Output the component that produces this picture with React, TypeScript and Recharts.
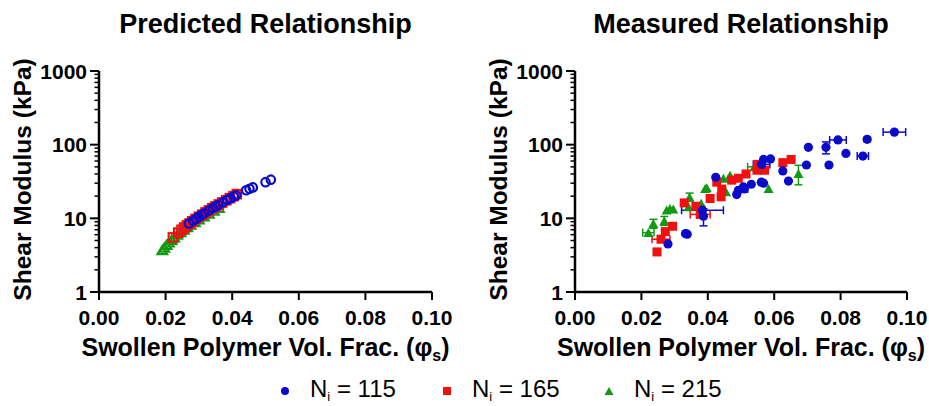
import { ErrorBar, Label, Scatter, ScatterChart, XAxis, YAxis } from "recharts";

const FONT = '"Liberation Sans", Arial, Helvetica, sans-serif';
const BLUE = "#0a0acb";
const RED = "#f01010";
const GREEN = "#129a12";

// axis ticks
const xTicks = [0, 0.02, 0.04, 0.06, 0.08, 0.1];
const yMajor = [1, 10, 100, 1000];
const yTicks = [
  1, 2, 3, 4, 5, 6, 7, 8, 9, 10, 20, 30, 40, 50, 60, 70, 80, 90, 100, 200, 300, 400, 500, 600,
  700, 800, 900, 1000,
];

// predicted relationship (open markers)
const predPhi115 = [
  0.027, 0.0283, 0.0292, 0.03, 0.0308, 0.0316, 0.033, 0.0342, 0.035, 0.0358, 0.0372, 0.0385,
  0.0395, 0.0405, 0.0412, 0.0442, 0.0452, 0.0462, 0.05, 0.0516,
];
const predG115 = [
  8.5, 9.3, 9.9, 10.5, 11.1, 11.7, 12.8, 13.8, 14.5, 15.2, 16.5, 17.8, 18.8, 19.8, 20.6, 24.0,
  25.2, 26.3, 31.0, 33.5,
];
const predPhi165 = [
  0.0222, 0.0238, 0.0248, 0.0256, 0.0264, 0.0272, 0.028, 0.029, 0.03, 0.031, 0.032, 0.033, 0.034,
  0.035, 0.036, 0.037, 0.0382, 0.0393, 0.0404, 0.0414,
];
const predG165 = [
  5.5, 6.4, 7.0, 7.5, 8.0, 8.5, 9.1, 9.8, 10.5, 11.2, 12.0, 12.8, 13.7, 14.5, 15.4, 16.4, 17.6,
  18.8, 20.0, 21.3,
];
const predPhi215 = [
  0.019, 0.0196, 0.0203, 0.021, 0.0218, 0.0226, 0.0235, 0.0245, 0.0255, 0.0265, 0.0275, 0.0288,
  0.03, 0.0315, 0.033, 0.0345, 0.036,
];
const predG215 = [
  3.7, 4.0, 4.35, 4.7, 5.1, 5.5, 6.0, 6.5, 7.0, 7.6, 8.2, 8.9, 9.7, 10.6, 11.6, 12.7, 13.9,
];

// measured relationship (filled markers, some with error bars)
const measPhi115 = [
  0.028, 0.0333, 0.0338, 0.0384, 0.0387, 0.0424, 0.0487, 0.0492, 0.0507, 0.051, 0.0531, 0.0561,
  0.0568, 0.0562, 0.0568, 0.0589, 0.0626, 0.0643, 0.0697, 0.0703, 0.0756, 0.0765, 0.0792, 0.0816,
  0.0867, 0.088, 0.0962,
];
const measG115 = [
  4.5, 6.2, 6.1, 12.9, 10.7, 36, 21, 24, 26.7, 25, 29, 31, 30, 54, 63, 64, 44, 32, 53, 92, 92, 53,
  116, 76, 70, 118, 148,
];
const measPhiErr115 = [
  0, 0, 0, 0.0063, 0, 0, 0, 0, 0, 0.001, 0, 0, 0, 0.0025, 0, 0, 0, 0, 0, 0, 0, 0, 0.0025, 0,
  0.0017, 0, 0.0034,
];
const measGErr115 = [
  0, 0, 0, 0, 2.8, 0, 0, 0, 0, 0, 0, 0, 0, 0, 0, 0, 0, 0, 0, 0, 17, 0, 0, 0, 0, 8, 0,
];

const measPhi165 = [
  0.0247, 0.0259, 0.0272, 0.0294, 0.0329, 0.0364, 0.0377, 0.0407, 0.0427, 0.044, 0.0442, 0.0472,
  0.0492, 0.0515, 0.0548, 0.055, 0.0571, 0.0626, 0.0651,
];
const measG165 = [
  3.5, 5.2, 6.6, 7.8, 16.2, 14.6, 11.3, 18.6, 31, 19.6, 25, 33, 35, 40, 45, 54, 45, 57, 63,
];
const measPhiErr165 = [0, 0.0027, 0, 0, 0, 0, 0.003, 0, 0, 0, 0, 0, 0, 0, 0, 0, 0, 0, 0];

const measPhi215 = [
  0.0221, 0.0236, 0.0269, 0.0276, 0.0286, 0.0296, 0.0342, 0.0345, 0.038, 0.0392, 0.0397, 0.0447,
  0.0455, 0.0467, 0.054, 0.0583, 0.0673,
];
const measG215 = [
  6.4, 8.5, 9.3, 13.0, 13.6, 13.4, 14.4, 19.5, 16, 25.4, 26, 35, 23, 38.5, 50, 25.4, 40.5,
];
const measPhiErr215 = [0.0017, 0, 0, 0, 0, 0, 0, 0, 0, 0, 0, 0, 0, 0, 0.002, 0, 0];
const measGErr215 = [0, 1.2, 1.3, 0, 0, 0, 0, 2.5, 0, 0, 0, 0, 0, 0, 0, 0, 12];

const pts = (xs: number[], ys: number[], ex?: number[], ey?: number[]) =>
  xs.map((x, i) => ({ x, y: ys[i], ex: ex ? ex[i] : 0, ey: ey ? ey[i] : 0 }));

type Kind = "circle" | "square" | "triangle";

const marker = (kind: Kind, color: string, open: boolean) => (props: any) => {
  const { cx, cy } = props;
  if (cx == null || cy == null) return <g />;
  const fill = open ? "none" : color;
  const sw = open ? 2.2 : 0;
  if (kind === "circle") {
    return <circle cx={cx} cy={cy} r={open ? 4.2 : 4.6} fill={fill} stroke={color} strokeWidth={sw} />;
  }
  if (kind === "square") {
    const s = open ? 8.5 : 9;
    return (
      <rect x={cx - s / 2} y={cy - s / 2} width={s} height={s} fill={fill} stroke={color} strokeWidth={sw} />
    );
  }
  const h = open ? 8 : 9;
  const w = open ? 9.5 : 10;
  return (
    <polygon
      points={`${cx},${cy - h / 2} ${cx + w / 2},${cy + h / 2} ${cx - w / 2},${cy + h / 2}`}
      fill={fill}
      stroke={color}
      strokeWidth={sw}
      strokeLinejoin="miter"
    />
  );
};

function YTick(props: any) {
  const { x, y, payload } = props;
  const axisX = x + 12;
  const major = yMajor.includes(payload.value);
  return (
    <g>
      <line
        x1={axisX - (major ? 9 : 4.5)}
        x2={axisX}
        y1={y}
        y2={y}
        stroke="#000"
        strokeWidth={major ? 2 : 1.5}
      />
      {major && (
        <text
          x={x}
          y={y}
          dy="0.36em"
          textAnchor="end"
          fontSize={21}
          fontWeight="bold"
          fontFamily={FONT}
          fill="#000"
        >
          {payload.value}
        </text>
      )}
    </g>
  );
}

function XLabel(props: any) {
  const vb = props.viewBox;
  return (
    <text
      x={vb.x + vb.width / 2}
      y={vb.y + 64}
      textAnchor="middle"
      fontSize={25}
      fontWeight="bold"
      fontFamily={FONT}
      fill="#000"
    >
      Swollen Polymer Vol. Frac. (φ
      <tspan fontSize={16} dy={5}>
        s
      </tspan>
      <tspan dy={-5}>)</tspan>
    </text>
  );
}

function YLabel(props: any) {
  const vb = props.viewBox;
  const cx = vb.x + vb.width - 77;
  const cy = vb.y + vb.height / 2 - 2;
  return (
    <text
      x={cx}
      y={cy}
      dy="0.36em"
      transform={`rotate(-90 ${cx} ${cy})`}
      textAnchor="middle"
      fontSize={24.5}
      fontWeight="bold"
      fontFamily={FONT}
      fill="#000"
    >
      Shear Modulus (kPa)
    </text>
  );
}

interface PanelProps {
  left: number;
  width: number;
  yWidth: number;
  right: number;
  children: React.ReactNode;
}

function Panel({ left, width, yWidth, right, children }: PanelProps) {
  return (
    <div style={{ position: "absolute", left, top: 0 }}>
      <ScatterChart width={width} height={370} margin={{ top: 71, right, bottom: 8, left: 0 }}>
        <XAxis
          type="number"
          dataKey="x"
          domain={[0, 0.1]}
          ticks={xTicks}
          interval={0}
          allowDataOverflow
          height={70}
          tickSize={8}
          tickMargin={10}
          tickFormatter={(v: number) => v.toFixed(2)}
          tick={{ fontSize: 21, fontWeight: "bold", fill: "#000", fontFamily: FONT }}
          axisLine={{ stroke: "#000", strokeWidth: 2.5 }}
          tickLine={{ stroke: "#000", strokeWidth: 2 }}
        >
          <Label content={XLabel} />
        </XAxis>
        <YAxis
          type="number"
          dataKey="y"
          scale="log"
          domain={[1, 1000]}
          ticks={yTicks}
          interval={0}
          allowDataOverflow
          width={yWidth}
          tickSize={9}
          tickMargin={3}
          tickLine={false}
          tick={YTick}
          axisLine={{ stroke: "#000", strokeWidth: 2.5 }}
        >
          <Label content={YLabel} />
        </YAxis>
        {children}
      </ScatterChart>
    </div>
  );
}

const titleStyle = (center: number): React.CSSProperties => ({
  position: "absolute",
  left: center - 220,
  width: 440,
  top: 11,
  textAlign: "center",
  fontFamily: FONT,
  fontWeight: "bold",
  fontSize: 27,
  lineHeight: "27px",
  color: "#000",
});

function LegendItem({ kind, color, label }: { kind: Kind; color: string; label: string }) {
  let shape;
  if (kind === "circle") shape = <circle cx={6} cy={9} r={4} fill={color} />;
  else if (kind === "square") shape = <rect x={2} y={5} width={8} height={8} fill={color} />;
  else shape = <polygon points="6,5 10.5,13 1.5,13" fill={color} />;
  return (
    <div style={{ display: "flex", alignItems: "center", width: 162 }}>
      <svg width={12} height={16} style={{ marginRight: 19 }}>
        {shape}
      </svg>
      <span style={{ fontFamily: FONT, fontSize: 24, color: "#000", whiteSpace: "nowrap" }}>
        N<span style={{ fontSize: 13, verticalAlign: "-4px" }}>i</span> = {label}
      </span>
    </div>
  );
}

export default function App() {
  return (
    <div style={{ position: "absolute", left: 0, top: 0, width: 929, height: 406, background: "#fff" }}>
      <div style={titleStyle(265.5)}>Predicted Relationship</div>
      <div style={titleStyle(741)}>Measured Relationship</div>

      <Panel left={0} width={465} yWidth={99} right={33}>
        <Scatter
          data={pts(predPhi215, predG215)}
          shape={marker("triangle", GREEN, true)}
          isAnimationActive={false}
        />
        <Scatter
          data={pts(predPhi165, predG165)}
          shape={marker("square", RED, true)}
          isAnimationActive={false}
        />
        <Scatter
          data={pts(predPhi115, predG115)}
          shape={marker("circle", BLUE, true)}
          isAnimationActive={false}
        />
      </Panel>

      <Panel left={465} width={464} yWidth={110} right={22}>
        <Scatter
          data={pts(measPhi215, measG215, measPhiErr215, measGErr215)}
          shape={marker("triangle", GREEN, false)}
          isAnimationActive={false}
        >
          <ErrorBar dataKey="ex" direction="x" width={4} stroke={GREEN} strokeWidth={1.5} />
          <ErrorBar dataKey="ey" direction="y" width={4} stroke={GREEN} strokeWidth={1.5} />
        </Scatter>
        <Scatter
          data={pts(measPhi165, measG165, measPhiErr165)}
          shape={marker("square", RED, false)}
          isAnimationActive={false}
        >
          <ErrorBar dataKey="ex" direction="x" width={4} stroke={RED} strokeWidth={1.5} />
        </Scatter>
        <Scatter
          data={pts(measPhi115, measG115, measPhiErr115, measGErr115)}
          shape={marker("circle", BLUE, false)}
          isAnimationActive={false}
        >
          <ErrorBar dataKey="ex" direction="x" width={4} stroke={BLUE} strokeWidth={1.5} />
          <ErrorBar dataKey="ey" direction="y" width={4} stroke={BLUE} strokeWidth={1.5} />
        </Scatter>
      </Panel>

      <div style={{ position: "absolute", left: 279, top: 375, display: "flex" }}>
        <LegendItem kind="circle" color={BLUE} label="115" />
        <LegendItem kind="square" color={RED} label="165" />
        <LegendItem kind="triangle" color={GREEN} label="215" />
      </div>
    </div>
  );
}
